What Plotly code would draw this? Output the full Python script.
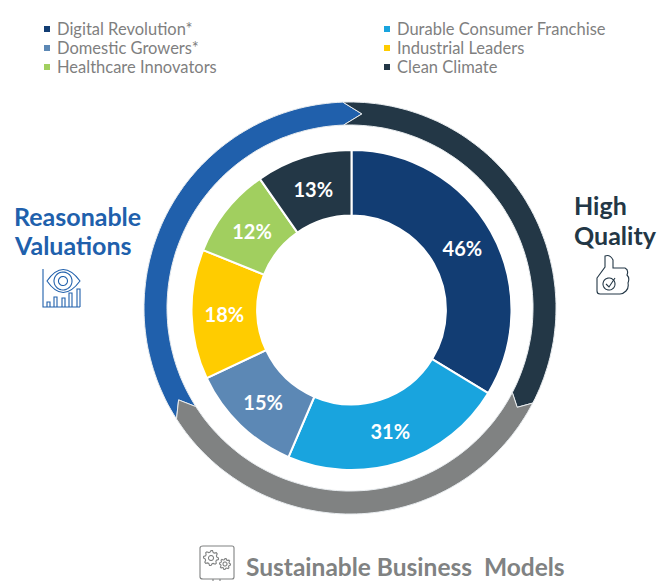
import numpy as np
import plotly.graph_objects as go

W, H = 661, 581

# Donut data: printed labels, and slice sizes
categories = ["Digital Revolution*", "Durable Consumer Franchise", "Domestic Growers*",
              "Industrial Leaders", "Healthcare Innovators", "Clean Climate"]
pct_labels = ["46%", "31%", "15%", "18%", "12%", "13%"]
weights = [45.5, 30.7, 15.6, 17.7, 12.4, 13.1]
colors = ["#123D73", "#19A4DE", "#5C88B5", "#FFCC00", "#A1CF5F", "#233746"]

# Legend layout: two columns, three rows
legend_x = [47, 387]
legend_y = [29, 48, 67]

# Outer ring pillars: start angle, end angle (degrees clockwise from top), colour
ring_names = ["Reasonable Valuations", "High Quality", "Sustainable Business Models"]
ring_start = [237.4, 358.0, 117.5]
ring_end = [358.0, 477.5, 237.4]
ring_tip = [5.5, 3.2, 4.4]
ring_colors = ["#2060AC", "#233746", "#808282"]

BLUE, DARK, GREY = ring_colors

cx, cy = 351.5, 310  # donut centre in px
rcx, rcy = 350, 308  # ring centre in px
r_out, r_in = 206, 183


def polar(r, deg):
    a = np.radians(deg)
    return rcx + r * np.sin(a), rcy - r * np.cos(a)


def to_path(pts, close=True):
    return "M" + " L".join(f"{x:.1f},{y:.1f}" for x, y in pts) + (" Z" if close else "")


def arrow_path(a0, a1, tip, notch):
    # ring segment with a pointed head at a1 and a matching notch at a0
    pts = []
    for a in np.linspace(a0, a1, 80):
        pts.append(polar(r_out, a))
    pts.append(polar((r_out + r_in) / 2, a1 + tip))
    for a in np.linspace(a1, a0, 80):
        pts.append(polar(r_in, a))
    pts.append(polar((r_out + r_in) / 2, a0 + notch))
    return to_path(pts)


def circle(x, y, r):
    t = np.linspace(0, 2 * np.pi, 40)[:-1]
    return to_path(list(zip(x + r * np.cos(t), y + r * np.sin(t))))


def gear(x, y, r, teeth=8):
    pts = []
    n = teeth * 4
    for i in range(n):
        rr = r if i % 4 in (0, 1) else r * 0.78
        a = 2 * np.pi * i / n
        pts.append((x + rr * np.cos(a), y + rr * np.sin(a)))
    return to_path(pts)


shapes = []
for i in range(3):
    shapes.append(dict(type="path",
                       path=arrow_path(ring_start[i], ring_end[i], ring_tip[i], ring_tip[i - 1]),
                       fillcolor=ring_colors[i],
                       line=dict(color="#E8ECEF", width=1), layer="below"))

# legend swatches
for i, name in enumerate(categories):
    sx, sy = legend_x[i % 2], legend_y[i // 2]
    shapes.append(dict(type="rect", x0=sx - 3, x1=sx + 3, y0=sy - 3, y1=sy + 3,
                       fillcolor=colors[i], line=dict(width=0)))


def icon(path, col):
    shapes.append(dict(type="path", path=path, line=dict(color=col, width=1.1)))


# eye + bars icon
icon("M43,269 L43,307 L80,307", BLUE)
icon("M47,281 Q63,258 80,281 Q63,304 47,281 Z", BLUE)
icon(circle(63, 281, 9), BLUE)
icon(circle(63, 281, 4.5), BLUE)
for bx, bt in zip([47, 54, 62, 69, 77], [302, 297, 298, 293, 289]):
    icon(f"M{bx},307 L{bx},{bt} L{bx + 3},{bt} L{bx + 3},307", BLUE)

# thumbs up icon
icon("M597,278 L605,267 L605,256 Q610,254 613,260 L613,268 L625,268 Q629,270 627,275 "
     "Q630,278 628,283 Q629,288 626,291 Q623,294 620,294 L600,294 Q597,294 597,291 Z", DARK)
icon(circle(609, 284, 6), DARK)
icon("M606,284 L609,287 L615,278", DARK)

# monitor with gears icon
icon("M203,546 L232,546 Q234,546 234,548 L234,577 Q234,579 232,579 L203,579 "
     "Q200,579 200,577 L200,548 Q200,546 203,546 Z", GREY)
icon("M213,579 L213,581 M220,579 L220,581", GREY)
icon(gear(211, 558, 7.5), GREY)
icon(circle(211, 558, 2.5), GREY)
icon(gear(225, 564, 5.5), GREY)
icon(circle(225, 564, 2), GREY)

annotations = []


def label(x, y, text, size, col, bold=False, anchor="left"):
    annotations.append(dict(x=x, y=y, xref="x", yref="y", text=text, showarrow=False,
                            xanchor=anchor, yanchor="middle", align="left", borderpad=0,
                            font=dict(family="Lato", size=size, color=col,
                                      weight=700 if bold else 400)))


for i, name in enumerate(categories):
    label(legend_x[i % 2] + 9, legend_y[i // 2], name, 16.5, "#7F7F7F")

label(13, 216, "Reasonable", 25, BLUE, True)
label(13, 245, "Valuations", 25, BLUE, True)
label(573, 205, "High", 25, DARK, True)
label(573, 235, "Quality", 25, DARK, True)
label(244.5, 566, "Sustainable Business  Models", 24.5, GREY, True)

fig = go.Figure()
r = 160
fig.add_trace(go.Pie(
    labels=categories, values=weights, sort=False, direction="clockwise", rotation=0,
    hole=0.59,
    marker=dict(colors=colors, line=dict(color="white", width=2)),
    text=pct_labels, textinfo="text", textposition="inside",
    insidetextorientation="horizontal",
    textfont=dict(family="Lato", size=20, color="white", weight=700),
    domain=dict(x=[(cx - r) / W, (cx + r) / W], y=[1 - (cy + r) / H, 1 - (cy - r) / H]),
    showlegend=False, hoverinfo="label+text",
))

fig.update_layout(
    width=W, height=H, margin=dict(l=0, r=0, t=0, b=0),
    paper_bgcolor="white", plot_bgcolor="white",
    xaxis=dict(range=[0, W], visible=False, fixedrange=True),
    yaxis=dict(range=[H, 0], visible=False, fixedrange=True),
    shapes=shapes, annotations=annotations, showlegend=False,
)
fig.write_html("out.html", config=dict(displayModeBar=False),
               post_script="document.body.style.margin='0';")
